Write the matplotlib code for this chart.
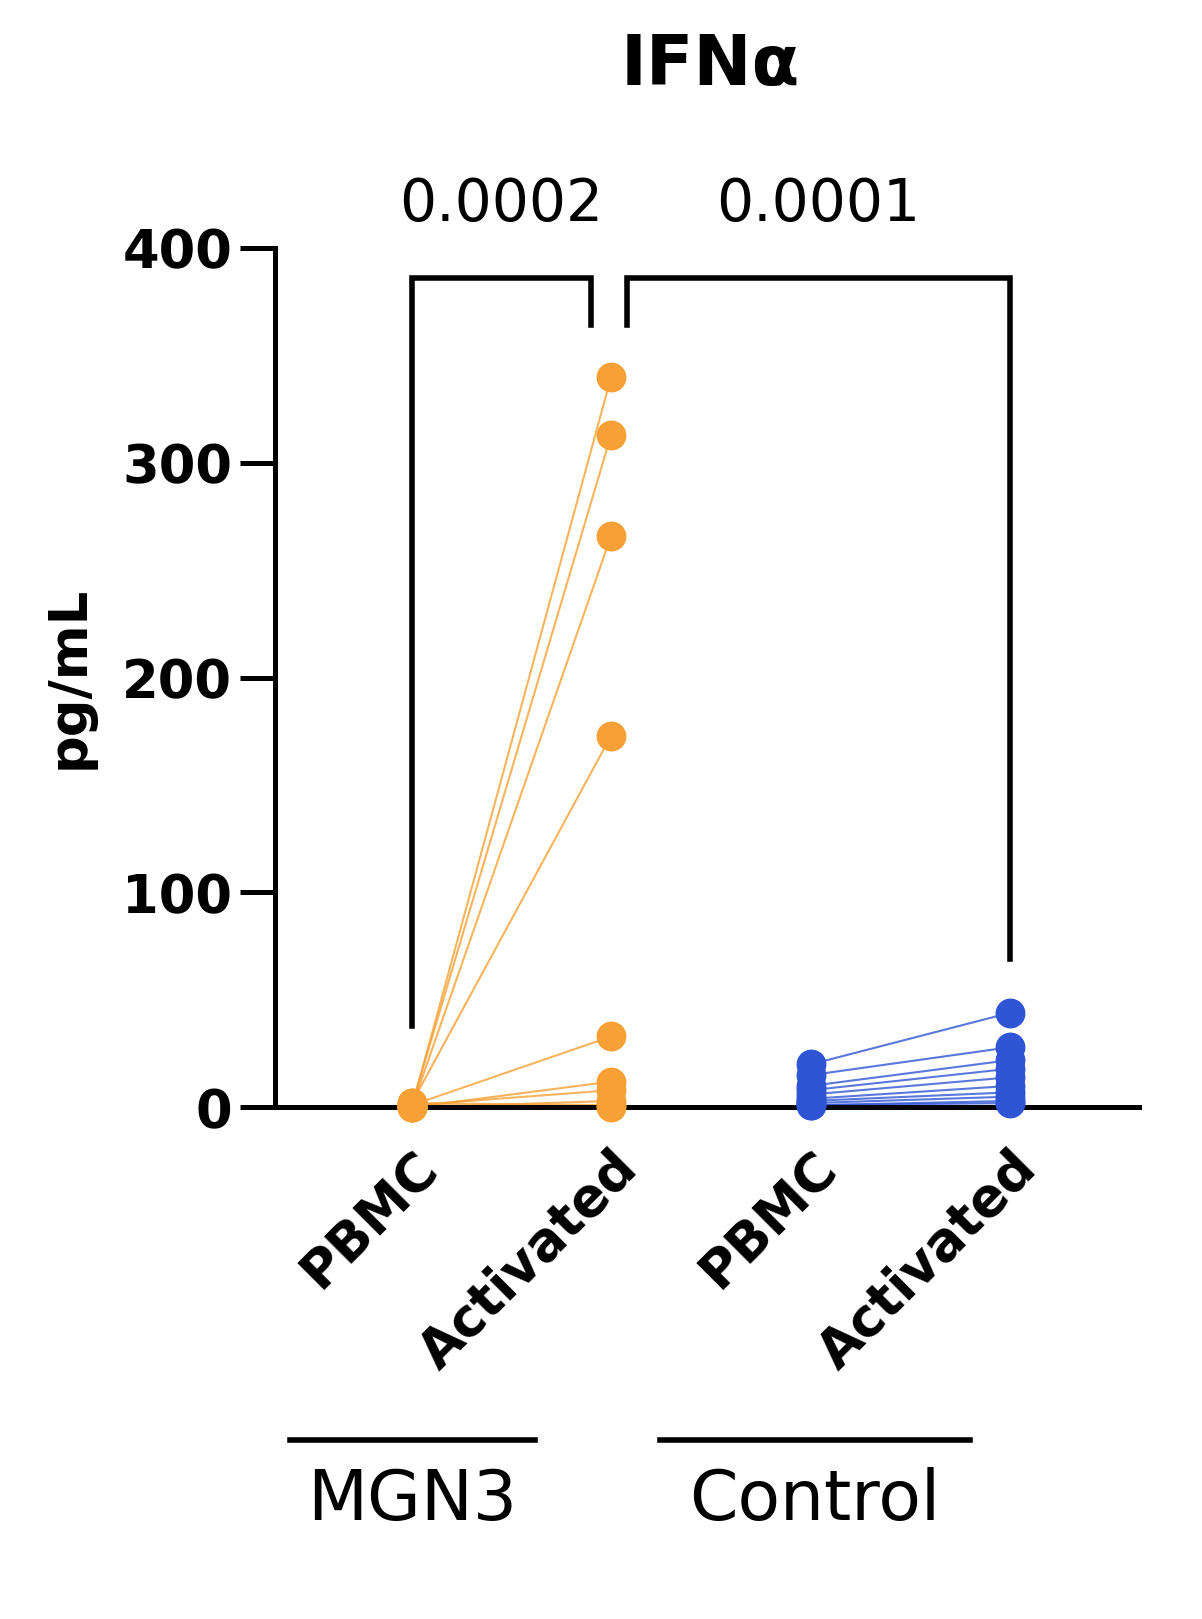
import numpy as np
import matplotlib.pyplot as plt

groups = ["MGN3", "Control"]
conditions = ["PBMC", "Activated", "PBMC", "Activated"]
mgn3_pbmc = [0, 1, 0, 2, 1, 0, 1, 0, 2, 1]
mgn3_act = [340, 313, 266, 173, 33, 12, 8, 3, 1, 0]
ctrl_pbmc = [20, 15, 10, 8, 6, 4, 3, 2, 1, 1]
ctrl_act = [44, 28, 22, 18, 14, 10, 7, 5, 3, 2]
pvals = ["0.0002", "0.0001"]
orange = "#f7a035"
blue = "#2f55d4"

W, H = 1202, 1619
fig = plt.figure(figsize=(12.02, 16.19), dpi=100)
ax = fig.add_axes([0.229, 0.316, 0.719, 0.531])

for a, b in zip(mgn3_pbmc, mgn3_act):
    ax.plot([0, 1], [a, b], color=orange, lw=1.5, alpha=0.8, clip_on=False)
for a, b in zip(ctrl_pbmc, ctrl_act):
    ax.plot([2, 3], [a, b], color=blue, lw=1.5, alpha=0.8, clip_on=False)
ax.scatter([0]*10 + [1]*10, mgn3_pbmc + mgn3_act, s=420, color=orange, zorder=3, clip_on=False)
ax.scatter([2]*10 + [3]*10, ctrl_pbmc + ctrl_act, s=420, color=blue, zorder=3, clip_on=False)

ax.set_xlim(-0.685, 3.65)
ax.set_ylim(0, 400)
ax.set_yticks([0, 100, 200, 300, 400])
ax.set_xticks(range(4))
ax.set_xticklabels(conditions, rotation=45, ha="right", rotation_mode="anchor",
                   fontsize=38, fontweight="bold")
for lbl in ax.get_yticklabels():
    lbl.set_fontsize(38); lbl.set_fontweight("bold")
ax.tick_params(axis="y", length=25, width=3.6, pad=6)
ax.tick_params(axis="x", length=0, pad=25)
for s in ["top", "right"]:
    ax.spines[s].set_visible(False)
ax.spines["left"].set_linewidth(3.6)
ax.spines["bottom"].set_linewidth(3.6)
ax.set_ylabel("pg/mL", fontsize=38, fontweight="bold", labelpad=20)

# significance brackets
kw = dict(color="black", lw=4, clip_on=False, solid_joinstyle="miter")
ax.plot([0, 0, 0.9, 0.9], [38, 386, 386, 364], **kw)
ax.plot([1.08, 1.08, 3, 3], [364, 386, 386, 69], **kw)
ax.text(0.45, 407, pvals[0], ha="center", va="bottom", fontsize=42)
ax.text(2.04, 407, pvals[1], ha="center", va="bottom", fontsize=42)

fig.text(710 / W, 1 - 65 / H, "IFNα", ha="center", va="center", fontsize=50, fontweight="bold")

# group labels
for x0, x1, name in [(290, 535, groups[0]), (660, 970, groups[1])]:
    fig.add_artist(plt.Line2D([x0 / W, x1 / W], [1 - 1440 / H] * 2, color="black", lw=4))
    fig.text((x0 + x1) / 2 / W, 1 - 1500 / H, name, ha="center", va="center", fontsize=50)

fig.savefig("out.png", dpi=100)
